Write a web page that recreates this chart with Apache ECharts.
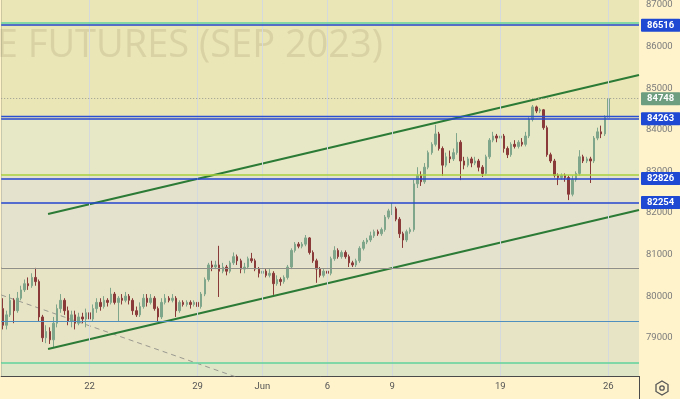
<!DOCTYPE html>
<html>
<head>
<meta charset="utf-8">
<script src="https://cdn.jsdelivr.net/npm/echarts@6/dist/echarts.min.js"></script>
<style>
  html, body { margin: 0; padding: 0; background: #fff3cc; }
  #chart { width: 680px; height: 399px; }
</style>
</head>
<body>
<div id="chart"></div>
<script>
// 2h bars, 6 per trading day, May 16 .. Jun 26 (first bar); [open, close, low, high]
const candles = [
  [79700, 79300, 79200, 79950], [79300, 79550, 79200, 79650], [79550, 79900, 79500, 80050],
  [79900, 79650, 79350, 79950], [79650, 79950, 79600, 80100], [79950, 80150, 79900, 80250],
  [80150, 80300, 80100, 80400], [80300, 80250, 80150, 80450], [80250, 80450, 80200, 80550],
  [80450, 80350, 80250, 80680], [80350, 79500, 79400, 80400], [79500, 79000, 78900, 79550],
  [79000, 79150, 78870, 79300], [79150, 78950, 78850, 79250], [78950, 79350, 78750, 79500],
  [79350, 79700, 79250, 79800], [79700, 79900, 79600, 80050], [79900, 79650, 79550, 79950],
  [79650, 79400, 79300, 79750], [79400, 79550, 79250, 79650], [79550, 79350, 79200, 79650],
  [79350, 79500, 79300, 79600], [79500, 79450, 79350, 79600], [79450, 79600, 79250, 79700],
  [79600, 79450, 79250, 79700], [79450, 79700, 79400, 79800], [79700, 79850, 79600, 79950],
  [79850, 79750, 79650, 79950], [79750, 79900, 79700, 80000], [79900, 79850, 79750, 79950],
  [79850, 80050, 79800, 80200], [80050, 79850, 79800, 80100], [79850, 79950, 79380, 80000],
  [79950, 79900, 79800, 80050], [79900, 80000, 79850, 80100], [80000, 79900, 79800, 80050],
  [79900, 79650, 79550, 79950], [79650, 79550, 79500, 79750], [79550, 79750, 79500, 79850],
  [79750, 79950, 79700, 80050], [79950, 79850, 79750, 80050], [79850, 79950, 79800, 80050],
  [79950, 79700, 79650, 80000], [79700, 79500, 79380, 79750], [79500, 79850, 79450, 79950],
  [79850, 79950, 79800, 80050], [79950, 79900, 79850, 80000], [79900, 79950, 79850, 80050],
  [79950, 79650, 79500, 80000], [79650, 79850, 79600, 79900], [79850, 79800, 79750, 79900],
  [79800, 79850, 79750, 79900], [79850, 79800, 79700, 79900], [79800, 79850, 79750, 79900],
  [79850, 79750, 79620, 79900], [79750, 80050, 79700, 80100], [80050, 80400, 80000, 80450],
  [80400, 80750, 80350, 80800], [80750, 80700, 80600, 80850], [80700, 80750, 80650, 80850],
  [80750, 80600, 79980, 81210], [80600, 80700, 80550, 80800], [80700, 80600, 80500, 80750],
  [80600, 80800, 80550, 80850], [80800, 80950, 80750, 81050], [80950, 80850, 80750, 81000],
  [80850, 80650, 80550, 80900], [80650, 80700, 80550, 80800], [80700, 80900, 80650, 80950],
  [80900, 80850, 80800, 81040], [80850, 80650, 80600, 80900], [80650, 80550, 80450, 80700],
  [80550, 80600, 80450, 80700], [80600, 80500, 80450, 80650], [80500, 80550, 80450, 80650],
  [80550, 80300, 80030, 80600], [80300, 80400, 80250, 80500], [80400, 80350, 80250, 80450],
  [80350, 80450, 80300, 80500], [80450, 80700, 80400, 80750], [80700, 81100, 80650, 81150],
  [81100, 81250, 81050, 81300], [81250, 81200, 81150, 81300], [81200, 81250, 81150, 81300],
  [81250, 81400, 81200, 81470], [81400, 81050, 81000, 81420], [81050, 80850, 80800, 81100],
  [80850, 80650, 80320, 80900], [80650, 80500, 80450, 80700], [80500, 80600, 80450, 80650],
  [80600, 80550, 80450, 80650], [80550, 80900, 80500, 80950], [80900, 81100, 80850, 81200],
  [81100, 80950, 80900, 81150], [80950, 81050, 80900, 81100], [81050, 80950, 80900, 81100],
  [80950, 80800, 80700, 81000], [80800, 80750, 80700, 80850], [80750, 80850, 80700, 80900],
  [80850, 81150, 80800, 81200], [81150, 81300, 81100, 81350], [81300, 81350, 81250, 81400],
  [81350, 81450, 81300, 81550], [81450, 81550, 81400, 81600], [81550, 81500, 81450, 81600],
  [81500, 81600, 81450, 81650], [81600, 81900, 81550, 81950], [81900, 82050, 81850, 82100],
  [82050, 82100, 81950, 82240], [82100, 81850, 81800, 82150], [81850, 81500, 81400, 81900],
  [81500, 81350, 81160, 81550], [81350, 81550, 81300, 81600], [81550, 81600, 81500, 81650],
  [81600, 82700, 81550, 82800], [82700, 82900, 82600, 83100], [82900, 82750, 82650, 83000],
  [82750, 83100, 82700, 83200], [83100, 83450, 83050, 83500], [83450, 83650, 83400, 83700],
  [83650, 83900, 83600, 84120], [83900, 83550, 83500, 83950], [83550, 83150, 82890, 83600],
  [83150, 83350, 83100, 83450], [83350, 83300, 83200, 83500], [83300, 83450, 83250, 83550],
  [83450, 83700, 83400, 83920], [83700, 83250, 82790, 83750], [83250, 83150, 83050, 83350],
  [83150, 83300, 83100, 83350], [83300, 83200, 83100, 83350], [83200, 83250, 83150, 83350],
  [83250, 83100, 83000, 83300], [83100, 82950, 82865, 83150], [82950, 83350, 82900, 83400],
  [83350, 83750, 83300, 83800], [83750, 83850, 83700, 83950], [83850, 83800, 83700, 83900],
  [83800, 83850, 83750, 84160], [83850, 83550, 83450, 83900], [83550, 83400, 83320, 83600],
  [83400, 83650, 83350, 83700], [83650, 83600, 83550, 83750], [83600, 83700, 83550, 83750],
  [83700, 83650, 83600, 83800], [83650, 83850, 83600, 83950], [83850, 84250, 83800, 84300],
  [84250, 84550, 84200, 84596], [84550, 84450, 84400, 84580], [84450, 84480, 84400, 84520],
  [84480, 84050, 84000, 84500], [84050, 83400, 83350, 84100], [83400, 83250, 83200, 83450],
  [83250, 82900, 82850, 83300], [82900, 82850, 82670, 82950], [82850, 82900, 82800, 82950],
  [82900, 82850, 82750, 82950], [82850, 82450, 82310, 82900], [82450, 82800, 82400, 82900],
  [82800, 82950, 82750, 83000], [82950, 83350, 82900, 83510], [83350, 83250, 83200, 83400],
  [83250, 83300, 83200, 83350], [83300, 83250, 82720, 83350], [83250, 83800, 83200, 83850],
  [83800, 83950, 83750, 84050], [83950, 83900, 83800, 84100], [83900, 84300, 83850, 84350],
  [84300, 84748, 84150, 84760]
]

const slotCount = 177
const dayLabels = ['22', '29', 'Jun', '6', '9', '19', '26']
const dayLabelIdx = [24, 54, 72, 90, 108, 138, 168]

const tagLevels = [86516, 84263, 82826, 82254]
const lastPrice = 84748
const blueTwinLevel = 84330
const greenLevels = [86570, 78405]
const limeLevel = 82930
const grayLevel = 80680
const steelLevel = 79400

// channel and falling trend line end points: [slot, price]
const channelTop = [[13, 81975], [177, 85317]]
const channelBottom = [[13, 78730], [177, 82072]]
const fallLine = [[0, 80028], [75, 77760]]

const bandEdges = [87120, 84263, 82930, 80680, 78405, 78080]
const bandColors = ['#ebe6b6', '#e6e8c6', '#e4e2cd', '#e7e3c5', '#dfe6c8']

const yMin = 78080
const yMax = 87120

const categories = Array.from({ length: slotCount }, (_, i) => i)
const labelMap = {}
dayLabelIdx.forEach((idx, k) => { labelMap[idx] = dayLabels[k] })

const chart = echarts.init(document.getElementById('chart'))

const tagLabel = (bg) => ({
  show: true,
  position: 'end',
  distance: 2,
  formatter: (p) => String(p.value),
  color: '#ffffff',
  fontWeight: 'bold',
  fontSize: 9.5,
  fontFamily: 'Roboto',
  backgroundColor: bg,
  padding: [2, 6, 1, 6],
  borderRadius: 1
})

const solid = (color, width) => ({ color, width, type: 'solid' })

const levelLines = [
  ...greenLevels.map((v) => ({ yAxis: v, lineStyle: solid('#5fd29c', 1.5), label: { show: false } })),
  { yAxis: limeLevel, lineStyle: solid('#a9d23c', 1.5), label: { show: false } },
  { yAxis: grayLevel, lineStyle: solid('#8e8e8a', 1), label: { show: false } },
  { yAxis: steelLevel, lineStyle: solid('#4f8fc0', 1), label: { show: false } },
  { yAxis: blueTwinLevel, lineStyle: solid('#2a4fd2', 1.3), label: { show: false } },
  { yAxis: lastPrice, lineStyle: { color: '#9a9a90', width: 1, type: [1, 2] }, label: tagLabel('#6d9e80') },
  ...tagLevels.map((v) => ({ yAxis: v, lineStyle: solid('#2445cc', 1.6), label: tagLabel('#1f49d3') }))
]

const bands = bandColors.map((c, k) => [
  { yAxis: bandEdges[k], itemStyle: { color: c } },
  { yAxis: bandEdges[k + 1] }
])

chart.setOption({
  animation: false,
  backgroundColor: '#fff3cc',
  grid: { left: 0, right: 41, top: 0, bottom: 23 },
  xAxis: [
    {
      type: 'category',
      data: categories,
      boundaryGap: true,
      axisLine: { lineStyle: { color: '#4a4a4a' } },
      axisTick: { show: false },
      splitLine: { show: false },
      axisLabel: {
        interval: 0,
        margin: 6,
        color: '#555555',
        fontSize: 9.5,
        fontFamily: 'Roboto',
        formatter: (v) => labelMap[v] || ''
      }
    },
    { type: 'value', min: 0, max: slotCount, show: false }
  ],
  yAxis: {
    type: 'value',
    position: 'right',
    min: yMin,
    max: yMax,
    splitNumber: 9,
    minInterval: 1000,
    maxInterval: 1000,
    axisLine: { show: true, lineStyle: { color: '#4a4a4a' } },
    axisTick: { show: false },
    axisLabel: {
      color: '#7b7b7b',
      fontSize: 9.5,
      fontFamily: 'Roboto',
      margin: 7,
      showMinLabel: false,
      showMaxLabel: false,
      formatter: (v) => String(v)
    },
    splitLine: { lineStyle: { color: '#d9dbcf' } }
  },
  graphic: [
    {
      type: 'text',
      right: 297,
      top: 27,
      z: 2,
      silent: true,
      style: {
        text: 'E FUTURES (SEP 2023)',
        fontSize: 38,
        fontFamily: 'Open Sans',
        fill: 'rgba(150, 140, 105, 0.22)'
      }
    },
    {
      type: 'line',
      shape: { x1: 639.5, y1: 376, x2: 639.5, y2: 399 },
      style: { stroke: '#4a4a4a', lineWidth: 1 }
    },
    {
      type: 'polygon',
      shape: { points: [[662, 381], [668, 384.5], [668, 391.5], [662, 395], [656, 391.5], [656, 384.5]] },
      style: { fill: 'none', stroke: '#555', lineWidth: 1.3 }
    },
    {
      type: 'circle',
      shape: { cx: 662, cy: 388, r: 2.2 },
      style: { fill: 'none', stroke: '#555', lineWidth: 1.3 }
    }
  ],
  series: [
    {
      name: 'bands',
      type: 'line',
      xAxisIndex: 1,
      data: [],
      z: -1,
      silent: true,
      markArea: { silent: true, data: bands }
    },
    {
      name: 'dayGrid',
      type: 'line',
      xAxisIndex: 1,
      data: [],
      z: 1,
      silent: true,
      markLine: {
        silent: true,
        symbol: 'none',
        label: { show: false },
        lineStyle: { color: '#d3d9dc', width: 1, type: 'solid' },
        data: dayLabelIdx.map((i) => ({ xAxis: i + 0.5 }))
      }
    },
    {
      name: 'price',
      type: 'candlestick',
      xAxisIndex: 0,
      data: candles,
      barWidth: 2,
      z: 3,
      itemStyle: {
        color: '#7fa68a',
        color0: '#8b3a3a',
        borderColor: '#7fa68a',
        borderColor0: '#8b3a3a',
        borderWidth: 1
      },
      markLine: {
        silent: true,
        symbol: 'none',
        data: levelLines
      }
    },
    {
      name: 'channelTop',
      type: 'line',
      xAxisIndex: 1,
      data: channelTop,
      symbol: 'none',
      z: 4,
      lineStyle: { color: '#2b7a35', width: 2 }
    },
    {
      name: 'channelBottom',
      type: 'line',
      xAxisIndex: 1,
      data: channelBottom,
      symbol: 'none',
      z: 4,
      lineStyle: { color: '#2b7a35', width: 2 }
    },
    {
      name: 'fallLine',
      type: 'line',
      xAxisIndex: 1,
      data: fallLine,
      symbol: 'none',
      z: 2,
      lineStyle: { color: '#999990', width: 1, type: [5, 4] }
    }
  ]
})
</script>
</body>
</html>
